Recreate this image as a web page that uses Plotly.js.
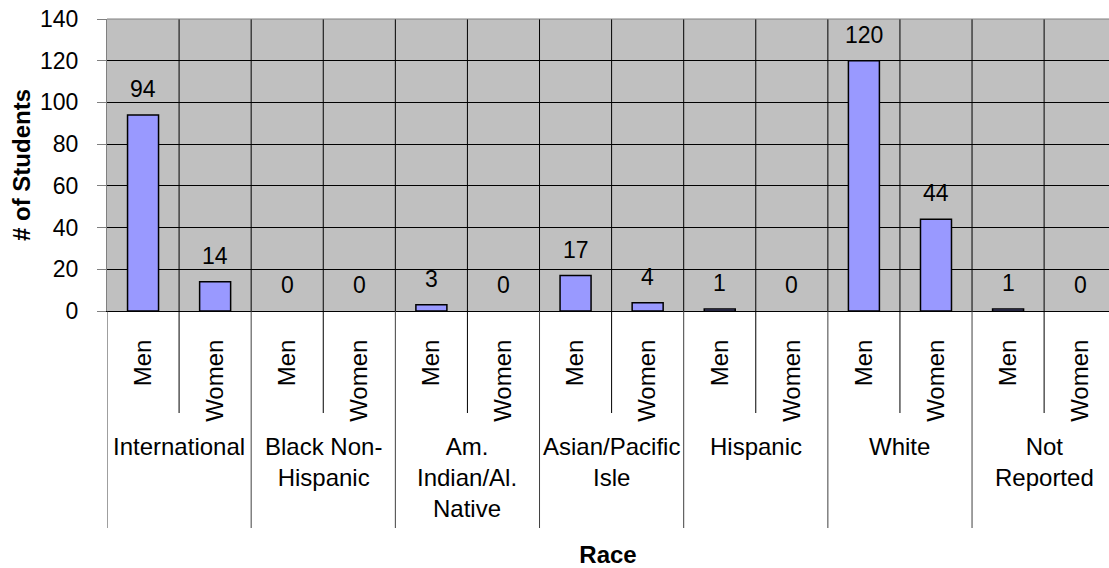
<!DOCTYPE html>
<html>
<head>
<meta charset="utf-8">
<script src="https://cdn.plot.ly/plotly-3.0.1.min.js"></script>
<style>html,body{margin:0;padding:0;background:#fff;}#chart{width:1109px;height:568px;}</style>
</head>
<body>
<div id="chart"></div>
<script>
// ---- data ----
const groups = ['International', 'Black Non-<br>Hispanic', 'Am.<br>Indian/Al.<br>Native', 'Asian/Pacific<br>Isle', 'Hispanic', 'White', 'Not<br>Reported'];
const sexes = ['Men', 'Women'];
const men = [94, 0, 3, 17, 1, 120, 1];
const women = [14, 0, 0, 4, 0, 44, 0];
const yTickVals = [0, 20, 40, 60, 80, 100, 120, 140];

// ---- build category positions ----
const xs = [], ys = [], tickText = [];
groups.forEach((g, i) => {
  [men[i], women[i]].forEach((v, j) => {
    xs.push(i * 2 + j);
    ys.push(v);
    tickText.push(sexes[j]);
  });
});

const FONT = 'Arial, "Liberation Sans", sans-serif';
const W = 1109, H = 568;
const M = {l: 107, r: 0, t: 19, b: 257};
const plotH = H - M.t - M.b;
const py = px => (H - M.b - px) / plotH; // pixel y -> paper y

const shapes = [];
const annotations = [];

// vertical category boundaries
for (let k = 0; k <= xs.length - 1; k++) {
  const xb = k - 0.5;
  const isGroup = (k % 2 === 0);
  if (k > 0) {
    shapes.push({type: 'line', xref: 'x', yref: 'paper', x0: xb, x1: xb, y0: 0, y1: 1,
      line: {color: '#000', width: 1}, layer: 'below'});
  }
  shapes.push({type: 'line', xref: 'x', yref: 'paper', x0: xb, x1: xb, y0: 0,
    y1: isGroup ? py(528) : py(413),
    line: {color: isGroup ? '#404040' : '#000', width: 1}});
}
// top border
shapes.push({type: 'line', xref: 'paper', yref: 'paper', x0: 0, x1: 1, y0: 1, y1: 1,
  line: {color: '#808080', width: 1}});

// value labels
xs.forEach((x, i) => {
  annotations.push({xref: 'x', yref: 'y', x: x, y: ys[i], text: String(ys[i]),
    showarrow: false, yanchor: 'middle', yshift: 26,
    font: {family: FONT, size: 23, color: '#000'}});
});

// group labels
groups.forEach((g, i) => {
  annotations.push({xref: 'x', yref: 'paper', x: i * 2 + 0.5, y: py(431), text: g,
    showarrow: false, yanchor: 'top', align: 'center',
    font: {family: FONT, size: 24, color: '#000'}});
});

const trace = {
  type: 'bar', x: xs, y: ys,
  marker: {color: '#9999FF', line: {color: '#000', width: ys.map(v => v === 0 ? 0 : 1.5)}},
  hoverinfo: 'x+y'
};

const layout = {
  width: W, height: H,
  margin: M,
  paper_bgcolor: '#fff', plot_bgcolor: '#C0C0C0',
  showlegend: false,
  bargap: 0.57,
  font: {family: FONT, color: '#000'},
  xaxis: {
    range: [-0.5, 13.4], tickvals: xs, ticktext: tickText, tickangle: -90,
    ticks: '', showgrid: false, zeroline: false,
    showline: true, linecolor: '#000', linewidth: 1,
    tickfont: {family: FONT, size: 24, color: '#000'},
    ticklabelstandoff: 18,
    automargin: false,
    title: {text: '<b>Race</b>', font: {family: FONT, size: 24, color: '#000'}, standoff: 128}
  },
  yaxis: {
    range: [0, 140], tickvals: yTickVals, ticks: 'outside', ticklen: 9, tickcolor: '#808080',
    showgrid: true, gridcolor: '#000', gridwidth: 1, zeroline: false,
    showline: true, linecolor: '#808080', linewidth: 1,
    tickfont: {family: FONT, size: 23, color: '#000'},
    ticklabelstandoff: 14,
    automargin: false,
    title: {text: '<b># of Students</b>', font: {family: FONT, size: 24, color: '#000'}, standoff: 2}
  },
  shapes: shapes,
  annotations: annotations
};

Plotly.newPlot('chart', [trace], layout, {displayModeBar: false, staticPlot: true});
</script>
</body>
</html>
